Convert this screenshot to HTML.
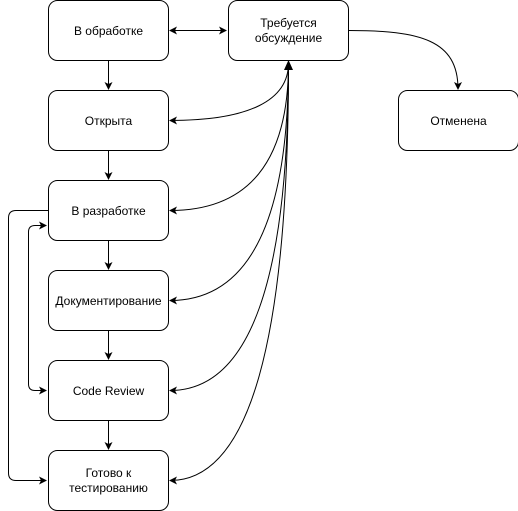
<!DOCTYPE html>
<html><head><meta charset="utf-8"><style>
html,body{margin:0;padding:0;background:#fff;}
svg{display:block;}
text{font-family:"Liberation Sans","DejaVu Sans",sans-serif;font-size:12px;fill:#000;}
</style></head><body>
<svg width="518" height="511" viewBox="0 0 518 511" xmlns="http://www.w3.org/2000/svg">
<defs>
<marker id="a" markerWidth="10" markerHeight="10" refX="7" refY="4" orient="auto" markerUnits="userSpaceOnUse">
<path d="M0,0 L8,4 L0,8 L2,4 Z" fill="#000"/>
</marker>
<marker id="s" markerWidth="10" markerHeight="10" refX="1" refY="4" orient="auto" markerUnits="userSpaceOnUse">
<path d="M8,0 L0,4 L8,8 L6,4 Z" fill="#000"/>
</marker>
</defs>
<g fill="#fff" stroke="#000" stroke-width="1">
<rect x="48.5" y="0.5" width="120" height="60" rx="9"/>
<rect x="228.5" y="0.5" width="120" height="60" rx="9"/>
<rect x="398.5" y="90.5" width="120" height="60" rx="9"/>
<rect x="48.5" y="90.5" width="120" height="60" rx="9"/>
<rect x="48.5" y="180.5" width="120" height="60" rx="9"/>
<rect x="48.5" y="270.5" width="120" height="60" rx="9"/>
<rect x="48.5" y="360.5" width="120" height="60" rx="9"/>
<rect x="48.5" y="450.5" width="120" height="60" rx="9"/>
</g>
<g fill="none" stroke="#000" stroke-width="1">
<path d="M170,30.5 L226,30.5" marker-start="url(#s)" marker-end="url(#a)"/>
<path d="M108.5,61 L108.5,89" marker-end="url(#a)"/>
<path d="M108.5,151 L108.5,179" marker-end="url(#a)"/>
<path d="M108.5,241 L108.5,269" marker-end="url(#a)"/>
<path d="M108.5,331 L108.5,359" marker-end="url(#a)"/>
<path d="M108.5,421 L108.5,449" marker-end="url(#a)"/>
<path d="M349,30.5 C420,30.5 458,40 458,89" marker-end="url(#a)"/>
<path d="M288.5,63 C288.5,100 250,120.5 170,120.5" marker-end="url(#a)"/>
<path d="M288.5,63 C288.5,160 250,210.5 170,210.5" marker-end="url(#a)"/>
<path d="M288.5,63 C288.5,220 250,300.5 170,300.5" marker-end="url(#a)"/>
<path d="M288.5,63 C288.5,280 250,390.5 170,390.5" marker-end="url(#a)"/>
<path d="M288.5,63 C288.5,340 250,480.5 170,480.5" marker-end="url(#a)"/>
<path d="M48,210.5 L16,210.5 Q8.5,210.5 8.5,218 L8.5,473 Q8.5,480.5 16,480.5 L46,480.5" marker-end="url(#a)"/>
<path d="M46,225.5 L35,225.5 Q28.5,225.5 28.5,232 L28.5,384 Q28.5,390.5 35,390.5 L46,390.5" marker-start="url(#s)" marker-end="url(#a)"/>
</g>
<path d="M284,70 L288.5,60 L293,70 Z" fill="#000"/>
<g text-anchor="middle">
<text x="108.5" y="35">В обработке</text>
<text x="288.5" y="27">Требуется</text>
<text x="288.5" y="42">обсуждение</text>
<text x="458.5" y="125">Отменена</text>
<text x="108.5" y="125">Открыта</text>
<text x="108.5" y="215">В разработке</text>
<text x="108.5" y="305">Документирование</text>
<text x="108.5" y="395">Code Review</text>
<text x="108.5" y="477">Готово к</text>
<text x="108.5" y="492">тестированию</text>
</g>
</svg>
</body></html>
